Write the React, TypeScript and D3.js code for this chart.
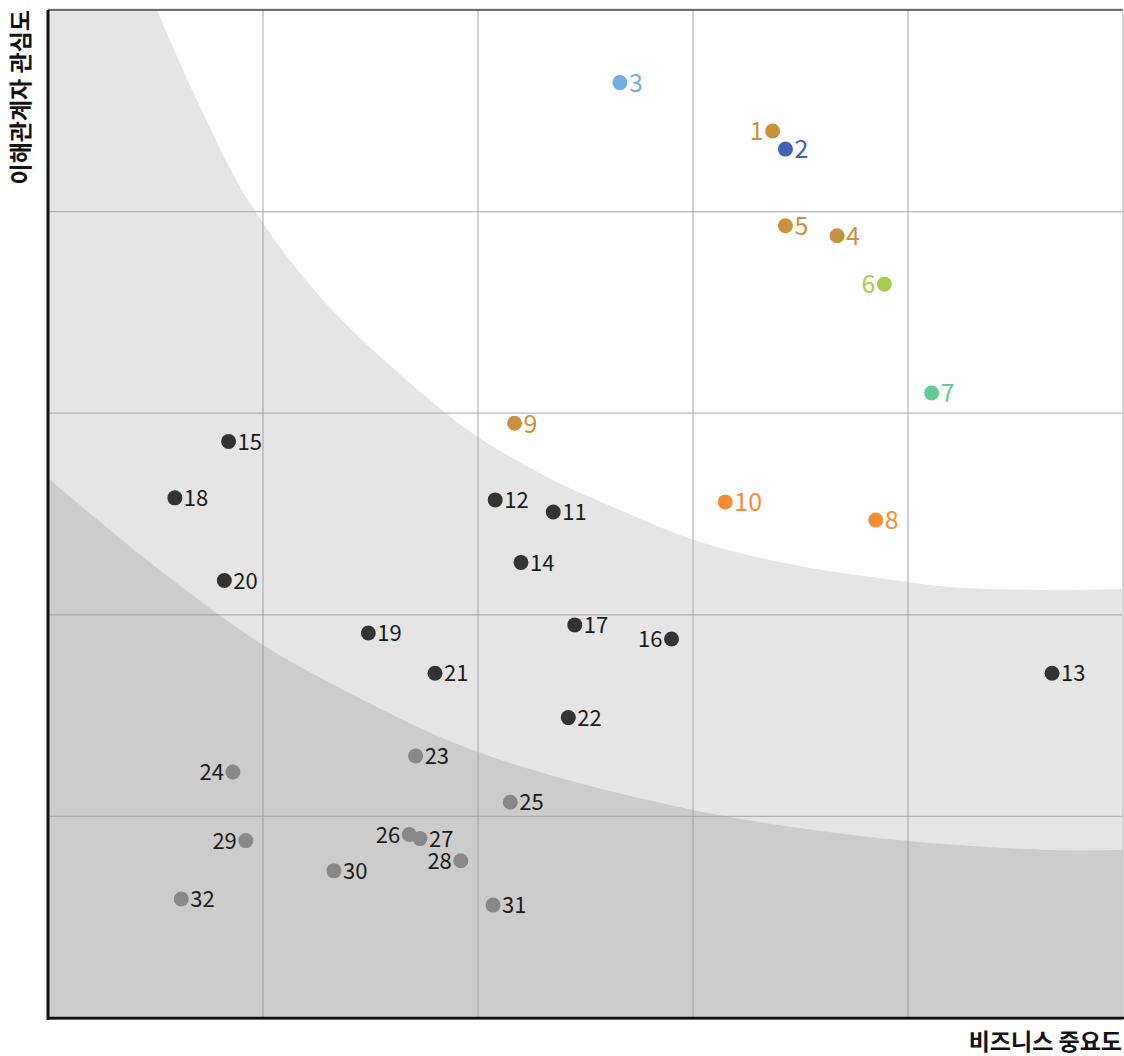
import React from "react";
import * as d3 from "d3";

// ---- data ----
const pointIds = [1, 2, 3, 4, 5, 6, 7, 8, 9, 10, 11, 12, 13, 14, 15, 16, 17, 18, 19, 20, 21, 22, 23, 24, 25, 26, 27, 28, 29, 30, 31, 32];
const businessImportance = [3.37, 3.43, 2.66, 3.67, 3.43, 3.89, 4.11, 3.85, 2.17, 3.15, 2.35, 2.08, 4.67, 2.2, 0.84, 2.9, 2.45, 0.59, 1.49, 0.82, 1.8, 2.42, 1.71, 0.86, 2.15, 1.68, 1.73, 1.92, 0.92, 1.33, 2.07, 0.62];
const stakeholderInterest = [4.4, 4.31, 4.64, 3.88, 3.93, 3.64, 3.1, 2.47, 2.95, 2.56, 2.51, 2.57, 1.71, 2.26, 2.86, 1.88, 1.95, 2.58, 1.91, 2.17, 1.71, 1.49, 1.3, 1.22, 1.07, 0.91, 0.89, 0.78, 0.88, 0.73, 0.56, 0.59];
const pointGroup = ["gold", "blue", "sky", "gold", "gold", "lime", "teal", "orange", "gold", "orange", "dark", "dark", "dark", "dark", "dark", "dark", "dark", "dark", "dark", "dark", "dark", "dark", "gray", "gray", "gray", "gray", "gray", "gray", "gray", "gray", "gray", "gray"];
const labelSide = ["L", "R", "R", "R", "R", "L", "R", "R", "R", "R", "R", "R", "R", "R", "R", "L", "R", "R", "R", "R", "R", "R", "R", "L", "R", "L", "R", "L", "L", "R", "R", "R"];

const groupColor: Record<string, string> = {
  gold: "#c8913e",
  blue: "#4262b4",
  sky: "#72ade0",
  lime: "#a8cc4c",
  teal: "#62cc98",
  orange: "#f28d33",
  dark: "#333333",
  gray: "#888888",
};
const labelColor: Record<string, string> = {
  gold: "#c8913e",
  blue: "#4262b4",
  sky: "#72ade0",
  lime: "#a8cc4c",
  teal: "#62cc98",
  orange: "#f28d33",
  dark: "#1a1a1a",
  gray: "#1a1a1a",
};

// background zone boundaries (data units)
const upperZoneX = [0.507, 0.693, 0.93, 1.279, 1.777, 2.0, 2.321, 2.628, 3.033, 3.498, 4.0, 4.195, 4.66, 5.0];
const upperZoneY = [5.0, 4.554, 4.058, 3.562, 3.065, 2.882, 2.684, 2.535, 2.361, 2.242, 2.163, 2.138, 2.123, 2.128];
const lowerZoneX = [0, 0.474, 1.0, 1.358, 1.856, 2.335, 3.0, 3.498, 4.0, 4.66, 5.0];
const lowerZoneY = [2.679, 2.26, 1.85, 1.637, 1.379, 1.205, 1.032, 0.942, 0.878, 0.833, 0.833];

const gridTicks = [1, 2, 3, 4];
const xTitle = "비즈니스 중요도";
const yTitle = "이해관계자 관심도";

const W = 1124;
const H = 1056;
const left = 48;
const right = 1123;
const top = 10;
const bottom = 1018;

export default function App() {
  const x = d3.scaleLinear().domain([0, 5]).range([left, right]);
  const y = d3.scaleLinear().domain([0, 5]).range([bottom, top]);

  const upper = upperZoneX.map((v, i) => ({ x: v, y: upperZoneY[i] }));
  const lower = lowerZoneX.map((v, i) => ({ x: v, y: lowerZoneY[i] }));

  const upperArea = d3
    .area<{ x: number; y: number }>()
    .x((d) => x(d.x))
    .y0(y(5))
    .y1((d) => y(d.y))
    .curve(d3.curveCatmullRom.alpha(0.5))(upper) as string;
  const lowerArea = d3
    .area<{ x: number; y: number }>()
    .x((d) => x(d.x))
    .y0(y(0))
    .y1((d) => y(d.y))
    .curve(d3.curveCatmullRom.alpha(0.5))(lower) as string;

  const font = "'Noto Sans CJK KR', 'Noto Sans', sans-serif";

  return (
    <svg width={W} height={H} style={{ position: "absolute", left: 0, top: 0 }} fontFamily={font}>
      <defs>
        <clipPath id="plot">
          <rect x={left} y={top} width={right - left} height={bottom - top} />
        </clipPath>
      </defs>
      <g clipPath="url(#plot)">
        <rect x={left} y={top} width={right - left} height={bottom - top} fill="#e5e5e5" />
        <path d={upperArea} fill="#ffffff" />
        <path d={lowerArea} fill="#cccccc" />
      </g>
      {gridTicks.map((t) => (
        <line key={"gx" + t} x1={x(t)} x2={x(t)} y1={top} y2={bottom} stroke="#999" strokeOpacity={0.75} strokeWidth={1.2} />
      ))}
      {gridTicks.map((t) => (
        <line key={"gy" + t} x1={left} x2={right} y1={y(t)} y2={y(t)} stroke="#999" strokeOpacity={0.7} strokeWidth={1.2} />
      ))}
      {/* frame */}
      <line x1={left} x2={right} y1={top - 1} y2={top - 1} stroke="#cfcfcf" strokeWidth={1} />
      <line x1={left} x2={right} y1={top} y2={top} stroke="#444" strokeWidth={1.5} />
      <line x1={right} x2={right} y1={top} y2={bottom} stroke="#c8c8c8" strokeWidth={1.5} />
      <line x1={left} x2={right} y1={bottom + 1.5} y2={bottom + 1.5} stroke="#888" strokeWidth={1} />
      <line x1={left} x2={right + 1} y1={bottom} y2={bottom} stroke="#111" strokeWidth={2.5} />
      <line x1={left} x2={left} y1={top} y2={bottom + 2} stroke="#111" strokeWidth={3} />

      {pointIds.map((id, i) => {
        const g = pointGroup[i];
        const cx = x(businessImportance[i]);
        const cy = y(stakeholderInterest[i]);
        const colored = g !== "dark" && g !== "gray";
        const side = labelSide[i];
        return (
          <g key={id}>
            <circle cx={cx} cy={cy} r={7.5} fill={groupColor[g]} />
            <text
              x={side === "R" ? cx + 9 : cx - 9}
              y={cy}
              dy="0.37em"
              textAnchor={side === "R" ? "start" : "end"}
              fontSize={colored ? 25 : 22}
              fill={labelColor[g]}
            >
              {id}
            </text>
          </g>
        );
      })}

      <text x={1122} y={1050} textAnchor="end" fontSize={23} fontWeight="bold" fill="#111">
        {xTitle}
      </text>
      <text transform={`translate(29, ${top}) rotate(-90)`} textAnchor="end" fontSize={23} fontWeight="bold" fill="#111">
        {yTitle}
      </text>
    </svg>
  );
}
